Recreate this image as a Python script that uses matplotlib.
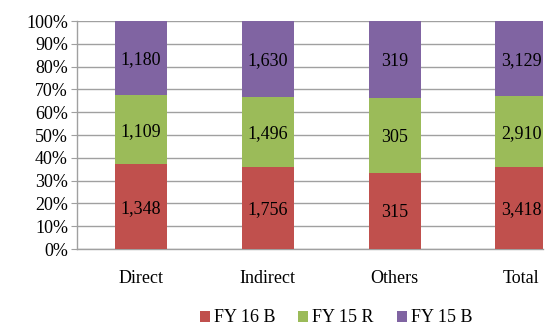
import numpy as np
import matplotlib.pyplot as plt
from matplotlib.patches import Patch

categories = ["Direct", "Indirect", "Others", "Total"]
fy16_b = [1348, 1756, 315, 3418]
fy15_r = [1109, 1496, 305, 2910]
fy15_b = [1180, 1630, 319, 3129]

series = [("FY 16 B", fy16_b, "#C0504D"),
          ("FY 15 R", fy15_r, "#9BBB59"),
          ("FY 15 B", fy15_b, "#8064A2")]

plt.rcParams["font.family"] = ["Liberation Serif", "DejaVu Serif"]
FS = 13

fig = plt.figure(figsize=(5.46, 3.27), dpi=100)
ax = fig.add_axes([77 / 546, 1 - 249 / 327, (543 - 77) / 546, (249 - 21) / 327])

x = np.arange(len(categories))
totals = np.sum([s[1] for s in series], axis=0)
bottom = np.zeros(len(categories))
for name, vals, col in series:
    pct = np.array(vals) / totals * 100
    ax.bar(x, pct, 0.41, bottom=bottom, color=col, zorder=3, label=name)
    for xi, b, p, v in zip(x, bottom, pct, vals):
        ax.text(xi, b + p / 2 - 0.8, f"{v:,}", ha="center", va="center",
                fontsize=FS, color="black", zorder=4, clip_on=True)
    bottom += pct

ax.set_xlim(-0.505, 3.17)
ax.set_ylim(0, 100)
ax.set_yticks(np.arange(0, 101, 10))
ax.set_yticklabels([f"{v}%" for v in range(0, 101, 10)], fontsize=FS)
ax.set_xticks(x)
ax.set_xticklabels(categories, fontsize=FS)
ax.tick_params(axis="x", length=0, pad=15)
ax.tick_params(axis="y", length=4.5, color="#A0A0A0", pad=2)
ax.grid(axis="y", color="#A0A0A0", linewidth=1, zorder=0)
for sp in ["top", "right"]:
    ax.spines[sp].set_visible(False)
for sp in ["left", "bottom"]:
    ax.spines[sp].set_color("#A0A0A0")
    ax.spines[sp].set_linewidth(1)

handles = [Patch(facecolor=c, label=n) for n, _, c in series]
fig.legend(handles=handles, loc="center", bbox_to_anchor=(336 / 546, 1 - 318 / 327),
           ncol=3, frameon=False, fontsize=FS, handlelength=0.55, handleheight=0.55,
           handletextpad=0.2, columnspacing=1.3, borderaxespad=0, borderpad=0)

fig.savefig("out.png", dpi=100)
